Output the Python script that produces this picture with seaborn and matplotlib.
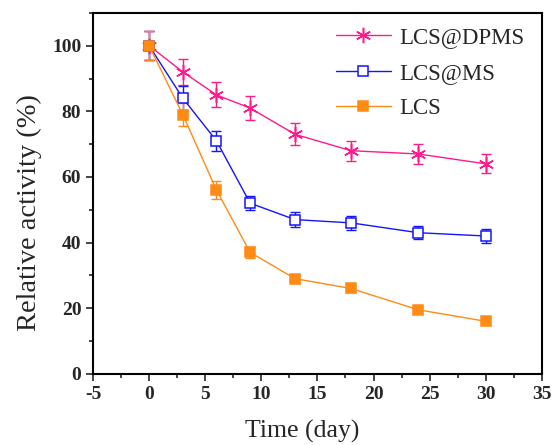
import matplotlib
matplotlib.use("Agg")
import matplotlib.pyplot as plt
import seaborn as sns
import pandas as pd
from matplotlib.ticker import MultipleLocator

days = [0, 3, 6, 9, 13, 18, 24, 30]
dpms = [100, 92, 85, 81, 73, 68, 67, 64]
dpms_err = [4.5, 4.0, 3.8, 3.6, 3.3, 3.0, 3.0, 2.9]
ms = [100, 84, 71, 52, 47, 46, 43, 42]
ms_err = [4.5, 3.7, 3.0, 2.2, 2.3, 2.1, 1.9, 2.0]
lcs = [100, 79, 56, 37, 29, 26, 19.5, 16]
lcs_err = [4.5, 3.5, 2.7, 1.8, 1.2, 1.0, 1.0, 0.8]

labels = ["LCS@DPMS", "LCS@MS", "LCS"]
colors = ["#FF1A8C", "#1414FF", "#FF8A14"]

sns.set_style("ticks")
plt.rcParams["font.family"] = ["Liberation Serif", "DejaVu Serif"]
plt.rcParams["axes.unicode_minus"] = False

fig = plt.figure(figsize=(5.54, 4.45), dpi=100)
ax = fig.add_axes([0.168, 0.16, 0.81, 0.811])

series = [(dpms, dpms_err), (ms, ms_err), (lcs, lcs_err)]
markers = [(6, 2, 0), "s", "s"]
msizes = [11, 7.5, 7.5]
for (vals, errs), lab, col, mk, msz in zip(series, labels, colors, markers, msizes):
    df = pd.DataFrame({"day": days, "val": vals})
    ax.errorbar(days, vals, yerr=errs, fmt="none", ecolor=col, elinewidth=1.0,
                capsize=3.5, capthick=1.0, zorder=2)
    face = col if lab != "LCS@MS" else "white"
    sns.lineplot(data=df, x="day", y="val", ax=ax, color=col, linewidth=1.0,
                 marker=mk, markersize=msz, markerfacecolor=face,
                 markeredgecolor=col, markeredgewidth=1.1, label=lab, zorder=3)

ax.set_xlim(-5, 35)
ax.set_ylim(0, 110)
ax.xaxis.set_major_locator(MultipleLocator(5))
ax.xaxis.set_minor_locator(MultipleLocator(2.5))
ax.yaxis.set_major_locator(MultipleLocator(20))
ax.yaxis.set_minor_locator(MultipleLocator(10))
ax.tick_params(which="major", direction="out", length=5, width=1.2, labelsize=14)
ax.tick_params(which="minor", direction="out", length=3, width=1.2)
for lbl in ax.get_xticklabels() + ax.get_yticklabels():
    lbl.set_fontweight("bold")
for sp in ax.spines.values():
    sp.set_visible(True)
    sp.set_linewidth(1.5)
    sp.set_color("black")

ax.set_xlabel("Time (day)", fontsize=18.5)
ax.set_ylabel("Relative activity (%)", fontsize=20.5)
ax.xaxis.set_label_coords(0.466, -0.128)
ax.yaxis.set_label_coords(-0.113, 0.446)

leg = ax.legend(loc="upper right", bbox_to_anchor=(0.993, 0.998), frameon=False,
                fontsize=16.5, handlelength=2.4, labelspacing=0.62,
                handletextpad=0.4, borderaxespad=0.2)

fig.savefig("out.png", dpi=100)
